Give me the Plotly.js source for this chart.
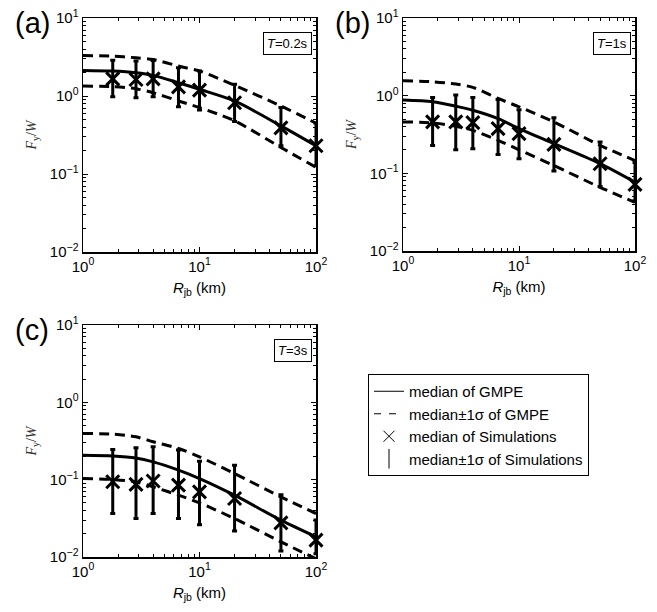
<!DOCTYPE html>
<html>
<head>
<meta charset="utf-8">
<script src="https://cdn.plot.ly/plotly-3.0.1.min.js"></script>
<style>html,body{margin:0;padding:0;background:#fff;}#chart{width:657px;height:612px;}</style>
</head>
<body>
<div id="chart"></div>
<script>
// Distances (km)
const simR = [1.8, 2.85, 4, 6.6, 10, 20, 50, 100];
const gmpeR = [1, 1.8, 2.85, 4, 6.6, 10, 20, 50, 100];

// (a) T = 0.2 s
const aMed = [2.13, 2.09, 1.99, 1.84, 1.48, 1.22, 0.863, 0.414, 0.230];
const aUp  = [3.30, 3.24, 3.09, 2.94, 2.42, 2.09, 1.37, 0.745, 0.448];
const aLo  = [1.34, 1.32, 1.24, 1.10, 0.863, 0.71, 0.48, 0.219, 0.122];
const aSim   = [1.66, 1.63, 1.66, 1.31, 1.19, 0.82, 0.39, 0.23];
const aSimHi = [2.88, 2.80, 2.85, 2.30, 2.09, 1.41, 0.71, 0.45];
const aSimLo = [0.98, 0.95, 0.98, 0.73, 0.66, 0.47, 0.23, 0.128];

// (b) T = 1 s
const bMed = [0.877, 0.834, 0.733, 0.650, 0.507, 0.377, 0.241, 0.133, 0.0768];
const bUp  = [1.56, 1.51, 1.41, 1.28, 0.92, 0.718, 0.459, 0.229, 0.146];
const bLo  = [0.459, 0.446, 0.404, 0.358, 0.266, 0.201, 0.126, 0.066, 0.0423];
const bSim   = [0.46, 0.46, 0.45, 0.377, 0.325, 0.236, 0.133, 0.072];
const bSimHi = [0.95, 1.02, 0.95, 0.89, 0.66, 0.52, 0.253, 0.138];
const bSimLo = [0.229, 0.201, 0.207, 0.175, 0.154, 0.107, 0.0675, 0.0443];

// (c) T = 3 s
const cMed = [0.207, 0.203, 0.191, 0.170, 0.133, 0.1035, 0.063, 0.0299, 0.0182];
const cUp  = [0.395, 0.388, 0.358, 0.309, 0.253, 0.197, 0.12, 0.0598, 0.0365];
const cLo  = [0.1035, 0.1005, 0.0937, 0.0807, 0.063, 0.0501, 0.0314, 0.0157, 0.0095];
const cSim   = [0.094, 0.087, 0.096, 0.085, 0.0695, 0.057, 0.0276, 0.0165];
const cSimHi = [0.245, 0.258, 0.266, 0.241, 0.173, 0.154, 0.064, 0.03];
const cSimLo = [0.0365, 0.0314, 0.0365, 0.0314, 0.0262, 0.0217, 0.012, 0.011];

// Tick labels
const xTickVals = [1, 10, 100];
const xTickText = ['10<sup>0</sup>', '10<sup>1</sup>', '10<sup>2</sup>'];
const yTickVals = [0.01, 0.1, 1, 10];
const yTickText = ['10<sup>\u22122</sup>', '10<sup>\u22121</sup>', '10<sup>0</sup>', '10<sup>1</sup>'];
const panelLabels = ['(a)', '(b)', '(c)'];
const periodLabels = ['<i>T</i>=0.2s', '<i>T</i>=1s', '<i>T</i>=3s'];
const legendNames = ['median of GMPE', 'median\u00b11\u03c3 of GMPE', 'median of Simulations', 'median\u00b11\u03c3 of Simulations'];

const panels = [
  {med: aMed, up: aUp, lo: aLo, sim: aSim, hi: aSimHi, low: aSimLo},
  {med: bMed, up: bUp, lo: bLo, sim: bSim, hi: bSimHi, low: bSimLo},
  {med: cMed, up: cUp, lo: cLo, sim: cSim, hi: cSimHi, low: cSimLo}
];

const W = 657, H = 612;
// pixel boxes of plot areas [left, right, top, bottom]
const boxes = [[83, 316, 18, 252], [403, 635, 18, 251], [83, 316, 325, 557]];

function minorVals(lo, hi) {
  const out = [];
  for (let d = lo; d < hi; d++) for (let k = 2; k <= 9; k++) out.push(k * Math.pow(10, d));
  return out;
}

const traces = [];
panels.forEach((p, i) => {
  const xa = i === 0 ? 'x' : 'x' + (i + 1);
  const ya = i === 0 ? 'y' : 'y' + (i + 1);
  const lineBase = {xaxis: xa, yaxis: ya, mode: 'lines', showlegend: false, hoverinfo: 'skip', cliponaxis: false};
  traces.push(Object.assign({}, lineBase, {x: gmpeR, y: p.up, line: {color: 'black', width: 3, dash: '10px,6px', shape: 'spline', smoothing: 0.8}}));
  traces.push(Object.assign({}, lineBase, {x: gmpeR, y: p.lo, line: {color: 'black', width: 3, dash: '10px,6px', shape: 'spline', smoothing: 0.8}}));
  traces.push(Object.assign({}, lineBase, {x: gmpeR, y: p.med, line: {color: 'black', width: 3, shape: 'spline', smoothing: 0.8}}));
  traces.push({
    x: simR, y: p.sim, xaxis: xa, yaxis: ya, mode: 'markers', showlegend: false, cliponaxis: false,
    marker: {symbol: 'x-thin-open', size: 13, color: 'black', line: {color: 'black', width: 3}},
    error_y: {type: 'data', symmetric: false,
      array: p.hi.map((v, k) => v - p.sim[k]),
      arrayminus: p.sim.map((v, k) => v - p.low[k]),
      color: 'black', thickness: 3, width: 2.5}
  });
});

// legend entries (thin symbols, as in the reference legend)
traces.push({x: [null], y: [null], mode: 'lines', name: legendNames[0], line: {color: 'black', width: 1}, showlegend: true});
traces.push({x: [null], y: [null], mode: 'lines', name: legendNames[1], line: {color: 'black', width: 1, dash: '7px,8px'}, showlegend: true});
traces.push({x: [null], y: [null], mode: 'markers', name: legendNames[2], marker: {symbol: 'x-thin-open', size: 11, color: 'black', line: {color: 'black', width: 1}}, showlegend: true});
traces.push({x: [null], y: [null], mode: 'markers', name: legendNames[3], marker: {symbol: 'line-ns-open', size: 14, color: 'black', line: {color: 'black', width: 1}}, showlegend: true});

const tickFont = {family: 'Liberation Sans, Arial, sans-serif', size: 15, color: 'black'};
const layout = {
  width: W, height: H,
  margin: {l: 0, r: 0, t: 0, b: 0},
  paper_bgcolor: 'white', plot_bgcolor: 'white',
  showlegend: true,
  legend: {
    x: 368 / W, y: 1 - 374 / H, xanchor: 'left', yanchor: 'top',
    bordercolor: 'black', borderwidth: 1, bgcolor: 'white',
    font: {family: 'Liberation Sans, Arial, sans-serif', size: 15, color: 'black'},
    itemwidth: 30, traceorder: 'normal'
  },
  annotations: [],
  font: {family: 'Liberation Sans, Arial, sans-serif', color: 'black'}
};

boxes.forEach((b, i) => {
  const sx = i === 0 ? '' : String(i + 1);
  layout['xaxis' + sx] = {
    type: 'log', range: [0, 2], domain: [b[0] / W, b[1] / W], anchor: 'y' + sx,
    showline: true, mirror: 'ticks', linecolor: 'black', linewidth: 1.5,
    ticks: 'inside', ticklen: 5, tickwidth: 1, tickcolor: 'black',
    showgrid: false, zeroline: false,
    tickmode: 'array', tickvals: xTickVals, ticktext: xTickText, tickfont: tickFont,
    minor: {tickmode: 'array', tickvals: minorVals(0, 2), ticks: 'inside', ticklen: 3, tickwidth: 1, tickcolor: 'black', showgrid: false},
    title: {text: '<i>R</i><sub>jb</sub> (km)', font: {family: 'Liberation Sans, Arial, sans-serif', size: 15, color: 'black'}, standoff: 9},
    automargin: false
  };
  layout['yaxis' + sx] = {
    type: 'log', range: [-2, 1], domain: [1 - b[3] / H, 1 - b[2] / H], anchor: 'x' + sx,
    showline: true, mirror: 'ticks', linecolor: 'black', linewidth: 1.5,
    ticks: 'inside', ticklen: 5, tickwidth: 1, tickcolor: 'black',
    showgrid: false, zeroline: false,
    tickmode: 'array', tickvals: yTickVals, ticktext: yTickText, tickfont: tickFont,
    minor: {tickmode: 'array', tickvals: minorVals(-2, 1), ticks: 'inside', ticklen: 3, tickwidth: 1, tickcolor: 'black', showgrid: false},
    title: {text: '<i>F</i><sub>y</sub>/<i>W</i>', font: {family: 'Liberation Serif, Times New Roman, serif', size: 14, color: '#333'}, standoff: 10},
    automargin: false
  };
  layout.annotations.push({
    xref: 'paper', yref: 'paper', x: (b[0] - 70) / W, y: 1 - (b[2] + 5) / H,
    xanchor: 'left', yanchor: 'middle', showarrow: false,
    text: panelLabels[i], font: {family: 'Liberation Sans, Arial, sans-serif', size: 29, color: 'black'}
  });
  layout.annotations.push({
    xref: 'paper', yref: 'paper', x: (b[1] - 4) / W, y: 1 - (b[2] + 14) / H,
    xanchor: 'right', yanchor: 'top', showarrow: false,
    text: periodLabels[i], font: {family: 'Liberation Sans, Arial, sans-serif', size: 13, color: 'black'},
    bordercolor: 'black', borderwidth: 1, borderpad: 3, bgcolor: 'white'
  });
});

Plotly.newPlot('chart', traces, layout, {staticPlot: true, displayModeBar: false});
</script>
</body>
</html>
